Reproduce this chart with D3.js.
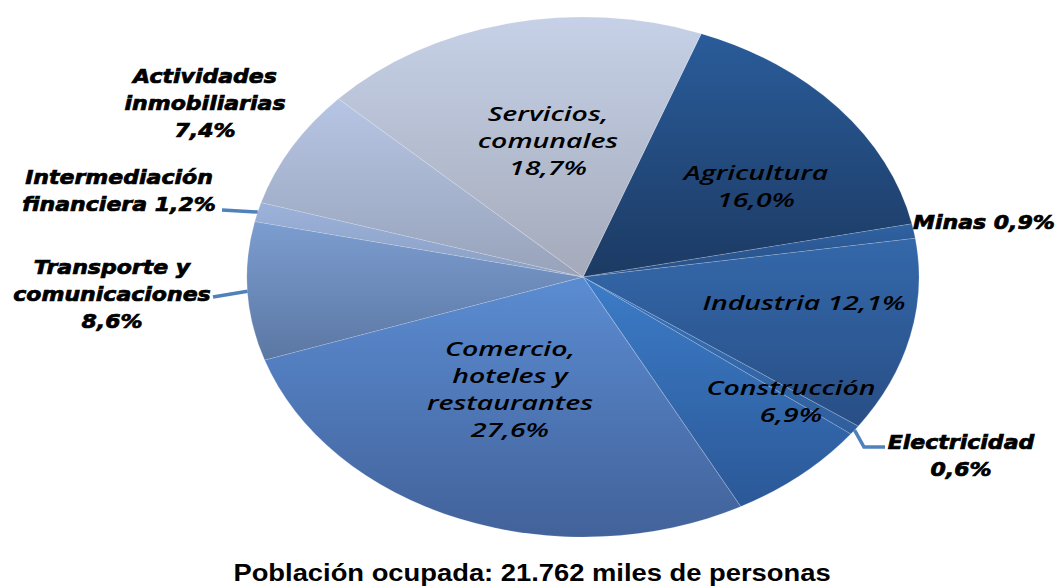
<!DOCTYPE html>
<html>
<head>
<meta charset="utf-8">
<script src="https://cdn.jsdelivr.net/npm/d3@7"></script>
<style>
  body { margin: 0; background: #fff; }
  svg { display: block; }
</style>
</head>
<body>
<div id="chart"></div>
<script>
// sectores, en orden de las agujas del reloj desde Agricultura
var categories = ["Agricultura", "Minas", "Industria", "Electricidad", "Construcción",
    "Comercio, hoteles y restaurantes", "Transporte y comunicaciones",
    "Intermediación financiera", "Actividades inmobiliarias", "Servicios, comunales"];
var values = [16.0, 0.9, 12.1, 0.6, 6.9, 27.6, 8.6, 1.2, 7.4, 18.7];
var labelLines = [
    ["Agricultura", "16,0%"],
    ["Minas 0,9%"],
    ["Industria 12,1%"],
    ["Electricidad", "0,6%"],
    ["Construcción", "6,9%"],
    ["Comercio,", "hoteles y", "restaurantes", "27,6%"],
    ["Transporte y", "comunicaciones", "8,6%"],
    ["Intermediación", "financiera 1,2%"],
    ["Actividades", "inmobiliarias", "7,4%"],
    ["Servicios,", "comunales", "18,7%"]
];
var title = "Población ocupada: 21.762 miles de personas";

// colores (arriba / abajo del degradado)
var topColors = ["#2a5c9a", "#2f62a2", "#3468aa", "#3a74bb", "#3c7cc8",
    "#5b8cd2", "#7c9dd0", "#9cb2da", "#b6c5e4", "#c6d1e7"];
var botColors = ["#1c3a63", "#284f86", "#284e85", "#2f5e9c", "#2b5897",
    "#42629a", "#5b77a3", "#8b9fc4", "#98a3ba", "#a4aaba"];

// posiciones de etiquetas: [x, y del primer renglón, ancla, exterior?]
var labelPos = [
    [756, 173, "middle", false],
    [913, 222, "start", true],
    [804, 303, "middle", false],
    [961, 442, "middle", true],
    [791, 388, "middle", false],
    [510, 349, "middle", false],
    [112, 267, "middle", true],
    [119, 177, "middle", true],
    [205, 76, "middle", true],
    [548, 114, "middle", false]
];
var leaderEnds = [null, null, null, [[864, 447], [885, 447]], null, null,
    [[213, 297]], [[222, 210]], null, null];

var width = 1057, height = 588;
var cx = 583, cy = 277, rx = 336, ry = 260;
var startAngle = 20.6 * Math.PI / 180;

var svg = d3.select("#chart").append("svg")
    .attr("width", width)
    .attr("height", height);

var defs = svg.append("defs");
categories.forEach(function(c, i) {
    var g = defs.append("linearGradient")
        .attr("id", "grad" + i)
        .attr("x1", 0).attr("y1", 0).attr("x2", 0).attr("y2", 1);
    g.append("stop").attr("offset", "0%").attr("stop-color", topColors[i]);
    g.append("stop").attr("offset", "100%").attr("stop-color", botColors[i]);
});

var pie = d3.pie()
    .sort(null)
    .startAngle(startAngle)
    .endAngle(startAngle + 2 * Math.PI)
    .value(function(d) { return d; });

var arcs = pie(values);

var arc = d3.arc()
    .innerRadius(0)
    .outerRadius(ry);

var pieGroup = svg.append("g")
    .attr("transform", "translate(" + cx + "," + cy + ") scale(" + (rx / ry) + ",1)");

pieGroup.selectAll("path.slice")
    .data(arcs)
    .enter()
    .append("path")
    .attr("class", "slice")
    .attr("d", arc)
    .attr("fill", function(d, i) { return "url(#grad" + i + ")"; })
    .attr("stroke", "rgba(255,255,255,0.18)")
    .attr("stroke-width", 0.8);

// punto del borde de la elipse en el ángulo medio
function edgePoint(d) {
    var a = (d.startAngle + d.endAngle) / 2;
    return [cx + rx * Math.sin(a), cy - ry * Math.cos(a)];
}

var line = d3.line();
svg.append("g").attr("class", "leaders")
    .selectAll("path")
    .data(arcs.filter(function(d, i) { return leaderEnds[i]; }))
    .enter()
    .append("path")
    .attr("d", function(d) {
        return line([edgePoint(d)].concat(leaderEnds[d.index]));
    })
    .attr("fill", "none")
    .attr("stroke", "#4f81bd")
    .attr("stroke-width", 3.5);

var labels = svg.append("g").attr("class", "labels")
    .selectAll("g")
    .data(arcs)
    .enter()
    .append("g")
    .attr("transform", function(d, i) {
        var p = labelPos[i];
        var sx = p[3] ? 1.16 : 1.42;
        return "translate(" + p[0] + "," + p[1] + ") scale(" + sx + ",1)";
    });

labels.each(function(d, i) {
    var p = labelPos[i];
    var outside = p[3];
    var t = d3.select(this).append("text")
        .attr("text-anchor", p[2])
        .style("font-family", outside ? "'DejaVu Sans', sans-serif" : "'Open Sans', sans-serif")
        .style("font-weight", outside ? "bold" : "600")
        .style("font-style", "italic")
        .style("font-size", outside ? "19px" : "20px")
        .style("fill", "#000")
        .style("stroke", outside ? "#000" : "none")
        .style("stroke-width", outside ? 0.7 : 0);
    labelLines[i].forEach(function(s, k) {
        t.append("tspan")
            .attr("x", 0)
            .attr("y", k * 27 + 7)
            .text(s);
    });
});

svg.append("text")
    .attr("transform", "translate(532,581) scale(1.14,1)")
    .attr("text-anchor", "middle")
    .style("font-family", "'Liberation Sans', Arial, sans-serif")
    .style("font-weight", "bold")
    .style("font-size", "24px")
    .style("fill", "#000")
    .text(title);
</script>
</body>
</html>
